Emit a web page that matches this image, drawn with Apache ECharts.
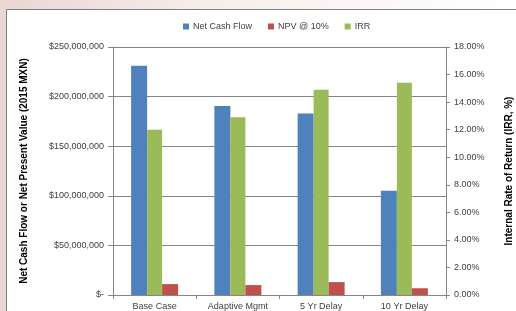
<!DOCTYPE html>
<html>
<head>
<meta charset="utf-8">
<script src="https://cdn.jsdelivr.net/npm/echarts@6/dist/echarts.min.js"></script>
<style>
  html, body { margin: 0; padding: 0; background: linear-gradient(90deg, #ead6d3, #f6eeec 40%, #ffffff); }
  #chart { width: 516px; height: 311px; }
</style>
</head>
<body>
<div id="chart"></div>
<script>
// values
const categories = ["Base Case", "Adaptive Mgmt", "5 Yr Delay", "10 Yr Delay"];
const netCashFlow = [231000000, 190500000, 183000000, 105000000];
const npv10 = [11000000, 10000000, 13000000, 6800000];
const irr = [12.0, 12.9, 14.9, 15.4];

const textColor = "#404040";
const lineColor = "#868686";

const chart = echarts.init(document.getElementById("chart"));

chart.setOption({
  animation: false,
  textStyle: { fontFamily: "Liberation Sans" },
  graphic: [
    {
      type: "rect",
      shape: { x: 6.5, y: 9.5, width: 520, height: 320 },
      style: { fill: "#fff", stroke: "#7f7f7f", lineWidth: 1 },
      z: -10
    }
  ],
  legend: {
    data: ["Net Cash Flow", "NPV @ 10%", "IRR"],
    left: 178,
    top: 17,
    itemWidth: 6,
    itemHeight: 6,
    itemGap: 16,
    icon: "rect",
    textStyle: { fontSize: 9, color: textColor, padding: [0, 0, 0, -1] }
  },
  grid: { left: 113, right: 70, top: 47, bottom: 16, outerBoundsMode: "none" },
  xAxis: {
    type: "category",
    data: categories,
    axisLine: { lineStyle: { color: lineColor } },
    axisTick: { show: true, length: 4, lineStyle: { color: lineColor } },
    axisLabel: { fontSize: 9, color: textColor, margin: 7 }
  },
  yAxis: [
    {
      type: "value",
      min: 0,
      max: 250000000,
      interval: 50000000,
      name: "Net Cash Flow or Net Present Value (2015 MXN)",
      nameLocation: "middle",
      nameGap: 84,
      nameTextStyle: { fontSize: 10, fontWeight: "bold", color: "#000" },
      axisLine: { show: true, lineStyle: { color: lineColor } },
      axisTick: { show: true, length: 5, lineStyle: { color: lineColor } },
      axisLabel: {
        fontSize: 9,
        color: textColor,
        margin: 9,
        formatter: function (v) {
          if (v === 0) return "$-";
          return "$" + v.toLocaleString("en-US");
        }
      },
      splitLine: { lineStyle: { color: lineColor } }
    },
    {
      type: "value",
      min: 0,
      max: 18,
      interval: 2,
      name: "Internal Rate of Return (IRR, %)",
      nameLocation: "middle",
      nameGap: 58,
      nameTextStyle: { fontSize: 10, fontWeight: "bold", color: "#000" },
      axisLine: { show: true, lineStyle: { color: lineColor } },
      axisTick: { show: true, length: 4, lineStyle: { color: lineColor } },
      axisLabel: {
        fontSize: 9,
        color: textColor,
        margin: 8,
        formatter: function (v) { return v.toFixed(2) + "%"; }
      },
      splitLine: { show: false }
    }
  ],
  series: [
    {
      name: "Net Cash Flow",
      type: "bar",
      yAxisIndex: 0,
      barWidth: 16,
      barGap: "0%",
      data: netCashFlow,
      itemStyle: { color: "#4F81BD" }
    },
    {
      name: "IRR",
      type: "bar",
      yAxisIndex: 1,
      barWidth: 15,
      barGap: "0%",
      data: irr,
      itemStyle: { color: "#9BBB59" }
    },
    {
      name: "NPV @ 10%",
      type: "bar",
      yAxisIndex: 0,
      barWidth: 16,
      barGap: "0%",
      data: npv10,
      itemStyle: { color: "#C0504D" }
    }
  ]
});
</script>
</body>
</html>
